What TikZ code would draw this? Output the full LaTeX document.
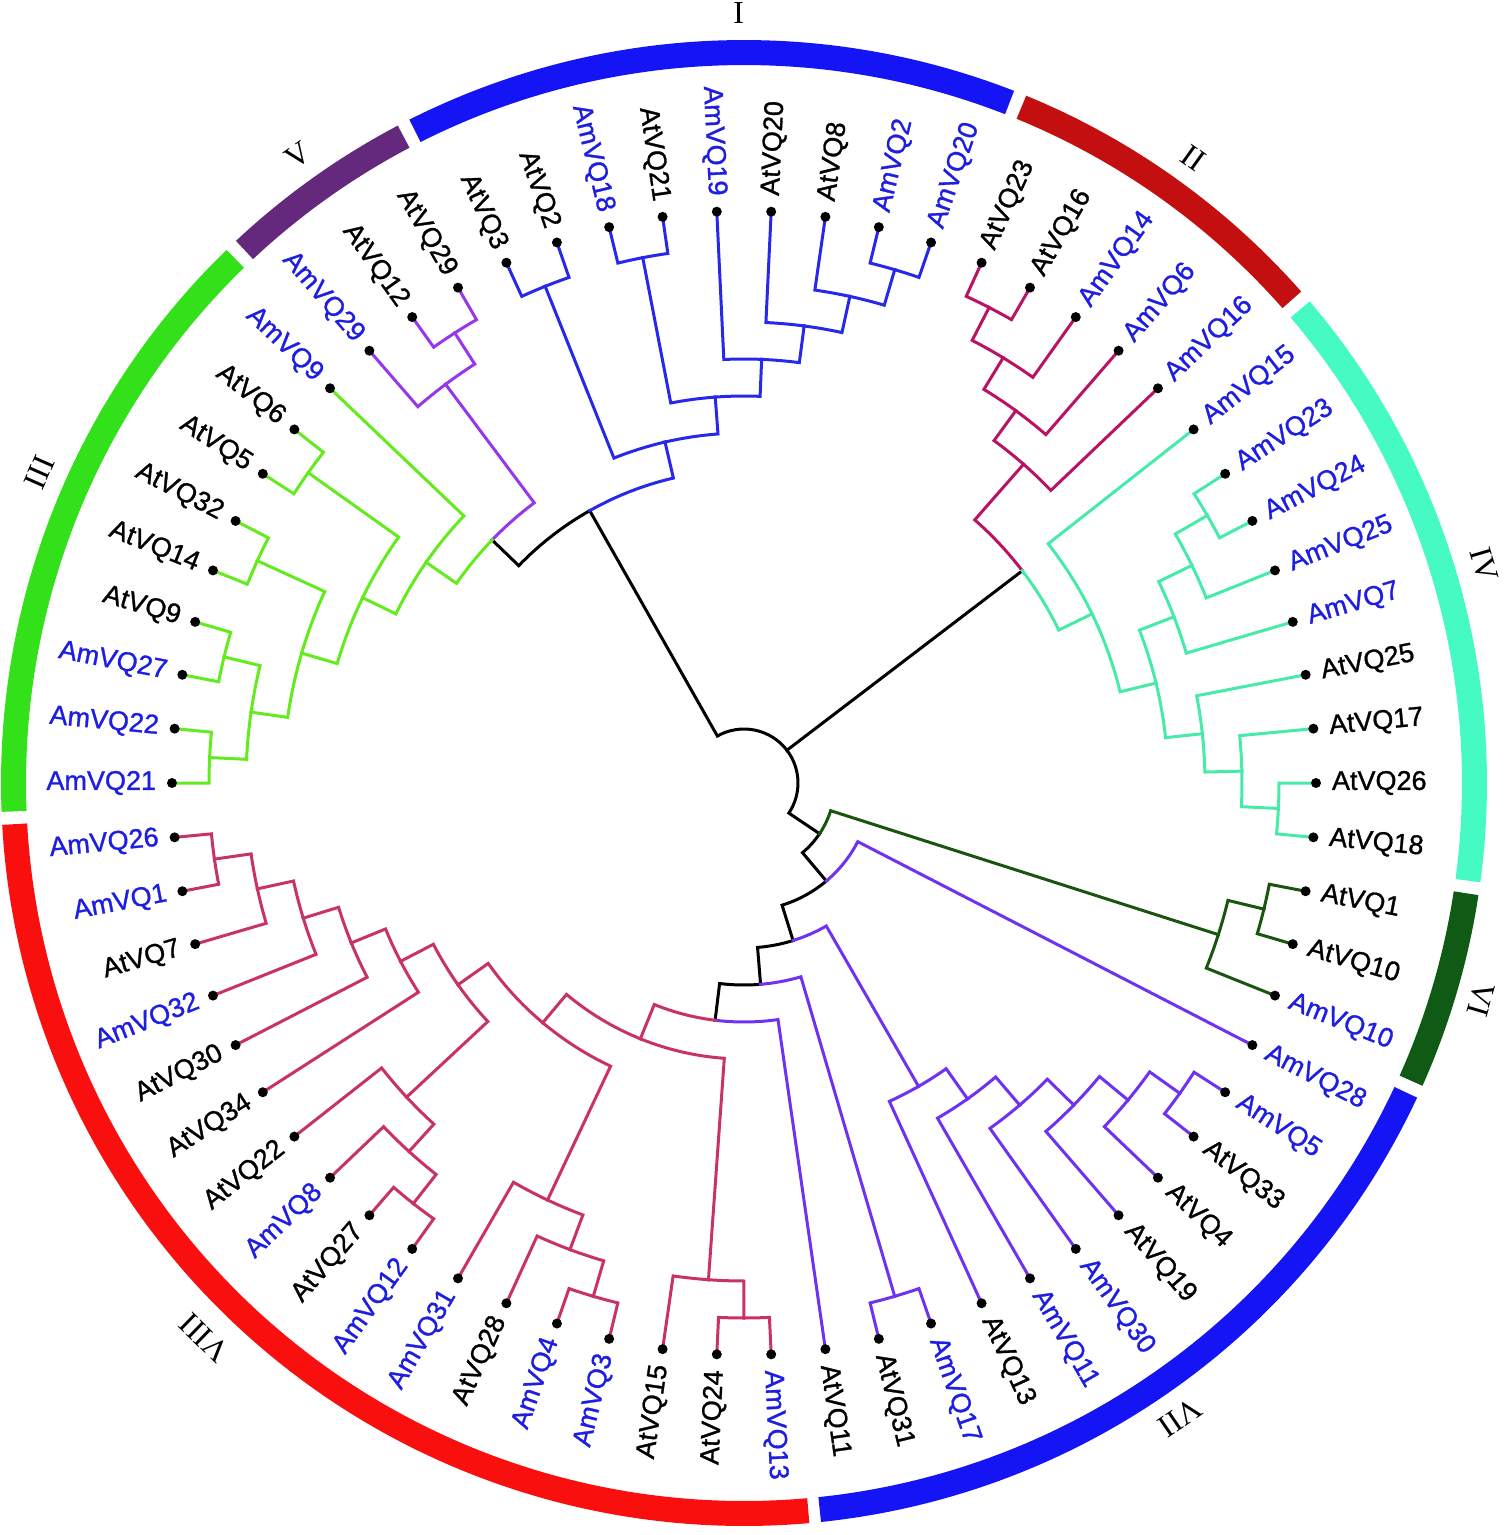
\documentclass[tikz,border=0pt]{standalone}
\usepackage{fontspec}
\setmainfont{Liberation Sans}
\newfontfamily\labfont[FakeBold=1.1]{Liberation Sans}
\newfontfamily\romfont{Liberation Serif}
\definecolor{cI}{RGB}{40,40,235}
\definecolor{cII}{RGB}{185,20,100}
\definecolor{cIII}{RGB}{100,235,30}
\definecolor{cIV}{RGB}{70,235,170}
\definecolor{cV}{RGB}{150,55,235}
\definecolor{cVI}{RGB}{25,85,15}
\definecolor{cVII}{RGB}{110,50,240}
\definecolor{cVIII}{RGB}{200,50,100}
\definecolor{rI}{RGB}{20,20,245}
\definecolor{rII}{RGB}{195,15,15}
\definecolor{rIII}{RGB}{50,225,25}
\definecolor{rIV}{RGB}{70,250,195}
\definecolor{rV}{RGB}{100,40,125}
\definecolor{rVI}{RGB}{15,90,20}
\definecolor{rVII}{RGB}{20,20,245}
\definecolor{rVIII}{RGB}{250,15,15}
\definecolor{amc}{RGB}{30,30,225}
\definecolor{atc}{RGB}{0,0,0}
\def\kk{5.45454545}
\tikzset{
  br/.style={line width=3pt, line cap=rect, line join=miter},
  lab/.style={inner sep=0pt, outer sep=0pt, font=\labfont\fontsize{27pt}{30pt}\selectfont},
  rom/.style={inner sep=0pt, outer sep=0pt, font=\romfont\fontsize{32pt}{36pt}\selectfont},
  leafdot/.style={circle, fill=black, draw=none, minimum size=10pt, inner sep=0pt},
  ringseg/.style={line width=25pt, line cap=butt}
}
% tree node: name, angle index u, height h
\newcommand\tn[3]{%
  \expandafter\xdef\csname tu-#1\endcsname{#2}%
  \expandafter\xdef\csname th-#1\endcsname{#3}%
  \pgfmathsetmacro\tmpa{#2*\kk}%
  \pgfmathsetmacro\tmpr{572-37*#3}%
  \coordinate (#1) at (\tmpa:\tmpr pt);%
}
% branch: colour, parent, child
\newcommand\br[3]{%
  \pgfmathsetmacro\pa{\csname tu-#2\endcsname*\kk}%
  \pgfmathsetmacro\ca{\csname tu-#3\endcsname*\kk}%
  \pgfmathsetmacro\pr{572-37*\csname th-#2\endcsname}%
  \draw[br,#1] (#2) arc[start angle=\pa, end angle=\ca, radius=\pr pt] -- (#3);%
}
% leaf: name, u, text, colour
\newcommand\lf[4]{%
  \tn{#1}{#2}{0}%
  \pgfmathsetmacro\la{#2*\kk}%
  \pgfmathtruncatemacro\rside{abs(\la)<90 ? 1 : 0}%
  \ifnum\rside=1
    \node[lab,text=#4,anchor=west,rotate=\la] (t#1) at (\la:588pt) {#3};%
  \else
    \pgfmathsetmacro\lb{\la+180}%
    \node[lab,text=#4,anchor=east,rotate=\lb] (t#1) at (\la:588pt) {#3};%
  \fi
}
\newcommand\seg[3]{\draw[ringseg,#1] (#2:730.5pt) arc[start angle=#2, end angle=#3, radius=730.5pt];}
\begin{document}
\begin{tikzpicture}[x=1pt,y=1pt]
\useasboundingbox (-744,-752) rectangle (761,783);
% ---------- leaves ----------
\lf{L0}{0}{AtVQ26}{atc}
\lf{L1}{1}{AtVQ17}{atc}
\lf{L2}{2}{AtVQ25}{atc}
\lf{L3}{3}{AmVQ7}{amc}
\lf{L4}{4}{AmVQ25}{amc}
\lf{L5}{5}{AmVQ24}{amc}
\lf{L6}{6}{AmVQ23}{amc}
\lf{L7}{7}{AmVQ15}{amc}
\lf{L8}{8}{AmVQ16}{amc}
\lf{L9}{9}{AmVQ6}{amc}
\lf{L10}{10}{AmVQ14}{amc}
\lf{L11}{11}{AtVQ16}{atc}
\lf{L12}{12}{AtVQ23}{atc}
\lf{L13}{13}{AmVQ20}{amc}
\lf{L14}{14}{AmVQ2}{amc}
\lf{L15}{15}{AtVQ8}{atc}
\lf{L16}{16}{AtVQ20}{atc}
\lf{L17}{17}{AmVQ19}{amc}
\lf{L18}{18}{AtVQ21}{atc}
\lf{L19}{19}{AmVQ18}{amc}
\lf{L20}{20}{AtVQ2}{atc}
\lf{L21}{21}{AtVQ3}{atc}
\lf{L22}{22}{AtVQ29}{atc}
\lf{L23}{23}{AtVQ12}{atc}
\lf{L24}{24}{AmVQ29}{amc}
\lf{L25}{25}{AmVQ9}{amc}
\lf{L26}{26}{AtVQ6}{atc}
\lf{L27}{27}{AtVQ5}{atc}
\lf{L28}{28}{AtVQ32}{atc}
\lf{L29}{29}{AtVQ14}{atc}
\lf{L30}{30}{AtVQ9}{atc}
\lf{L31}{31}{AmVQ27}{amc}
\lf{L32}{32}{AmVQ22}{amc}
\lf{L33}{33}{AmVQ21}{amc}
\lf{L34}{-32}{AmVQ26}{amc}
\lf{L35}{-31}{AmVQ1}{amc}
\lf{L36}{-30}{AtVQ7}{atc}
\lf{L37}{-29}{AmVQ32}{amc}
\lf{L38}{-28}{AtVQ30}{atc}
\lf{L39}{-27}{AtVQ34}{atc}
\lf{L40}{-26}{AtVQ22}{atc}
\lf{L41}{-25}{AmVQ8}{amc}
\lf{L42}{-24}{AtVQ27}{atc}
\lf{L43}{-23}{AmVQ12}{amc}
\lf{L44}{-22}{AmVQ31}{amc}
\lf{L45}{-21}{AtVQ28}{atc}
\lf{L46}{-20}{AmVQ4}{amc}
\lf{L47}{-19}{AmVQ3}{amc}
\lf{L48}{-18}{AtVQ15}{atc}
\lf{L49}{-17}{AtVQ24}{atc}
\lf{L50}{-16}{AmVQ13}{amc}
\lf{L51}{-15}{AtVQ11}{atc}
\lf{L52}{-14}{AtVQ31}{atc}
\lf{L53}{-13}{AmVQ17}{amc}
\lf{L54}{-12}{AtVQ13}{atc}
\lf{L55}{-11}{AmVQ11}{amc}
\lf{L56}{-10}{AmVQ30}{amc}
\lf{L57}{-9}{AtVQ19}{atc}
\lf{L58}{-8}{AtVQ4}{atc}
\lf{L59}{-7}{AtVQ33}{atc}
\lf{L60}{-6}{AmVQ5}{amc}
\lf{L61}{-5}{AmVQ28}{amc}
\lf{L62}{-4}{AmVQ10}{amc}
\lf{L63}{-3}{AtVQ10}{atc}
\lf{L64}{-2}{AtVQ1}{atc}
\lf{L65}{-1}{AtVQ18}{atc}
% ---------- internal nodes ----------
\tn{RT}{6.84375}{14}
\tn{A}{21.9140625}{7}
\tn{R1}{18.890625}{6}
\tn{P2021}{20.5}{1}
\tn{N1}{17.28125}{5}
\tn{P1819}{18.5}{1}
\tn{N2}{16.0625}{4}
\tn{N3}{15.125}{3}
\tn{N4}{14.25}{2}
\tn{P1314}{13.5}{1}
\tn{B}{24.9375}{6}
\tn{R5}{23.25}{2}
\tn{P2223}{22.5}{1}
\tn{R3}{26.625}{5}
\tn{Q3}{28.25}{4}
\tn{P2627}{26.5}{1}
\tn{Q2}{30}{3}
\tn{P2829}{28.5}{1}
\tn{Q1}{31.5}{2}
\tn{P3031}{30.5}{1}
\tn{P3233}{32.5}{1}
\tn{E}{6.84375}{6}
\tn{R2}{8.9375}{4}
\tn{X1}{9.875}{3}
\tn{X2}{10.75}{2}
\tn{P1112}{11.5}{1}
\tn{R4}{4.75}{5}
\tn{Y3}{2.5}{4}
\tn{Y2}{1.125}{3}
\tn{Y1}{0.25}{2}
\tn{P0}{-0.5}{1}
\tn{W2}{3.875}{3}
\tn{W1}{4.75}{2}
\tn{P56}{5.5}{1}
\tn{C}{-6.20642}{13}
\tn{R6}{-3.25}{2}
\tn{P6364}{-2.5}{1}
\tn{D}{-9.16284}{12}
\tn{F}{-13.3256836}{11}
\tn{G}{-11.015625}{6}
\tn{H}{-10.03125}{5}
\tn{I4}{-9.0625}{4}
\tn{I3}{-8.125}{3}
\tn{I2}{-7.25}{2}
\tn{P5960}{-6.5}{1}
\tn{F2}{-15.6357422}{10}
\tn{P5253}{-13.5}{1}
\tn{F3}{-17.7714844}{9}
\tn{R8}{-20.5429688}{8}
\tn{V1}{-17.25}{2}
\tn{P4950}{-16.5}{1}
\tn{K1}{-23.8359375}{7}
\tn{K2}{-21.125}{3}
\tn{K3}{-20.25}{2}
\tn{P4647}{-19.5}{1}
\tn{K4}{-26.546875}{6}
\tn{M}{-25.125}{3}
\tn{M2}{-24.25}{2}
\tn{P4243}{-23.5}{1}
\tn{J4}{-27.96875}{5}
\tn{J3}{-28.9375}{4}
\tn{J2}{-29.875}{3}
\tn{J1}{-30.75}{2}
\tn{P3435}{-31.5}{1}
% ---------- backbone ----------
\br{black}{RT}{A}
\br{black}{RT}{C}
\draw[br,black] (RT) -- (E);
\br{black}{A}{B}
\br{black}{C}{D}
\br{black}{D}{F}
\br{black}{F}{F2}
\br{black}{F2}{F3}
% ---------- clade I ----------
\br{cI}{A}{R1}
\br{cI}{R1}{P2021}\br{cI}{R1}{N1}
\br{cI}{P2021}{L20}\br{cI}{P2021}{L21}
\br{cI}{N1}{P1819}\br{cI}{N1}{N2}
\br{cI}{P1819}{L18}\br{cI}{P1819}{L19}
\br{cI}{N2}{L17}\br{cI}{N2}{N3}
\br{cI}{N3}{L16}\br{cI}{N3}{N4}
\br{cI}{N4}{L15}\br{cI}{N4}{P1314}
\br{cI}{P1314}{L13}\br{cI}{P1314}{L14}
% ---------- clade V ----------
\br{cV}{B}{R5}
\br{cV}{R5}{P2223}\br{cV}{R5}{L24}
\br{cV}{P2223}{L22}\br{cV}{P2223}{L23}
% ---------- clade III ----------
\br{cIII}{B}{R3}
\br{cIII}{R3}{L25}\br{cIII}{R3}{Q3}
\br{cIII}{Q3}{P2627}\br{cIII}{Q3}{Q2}
\br{cIII}{P2627}{L26}\br{cIII}{P2627}{L27}
\br{cIII}{Q2}{P2829}\br{cIII}{Q2}{Q1}
\br{cIII}{P2829}{L28}\br{cIII}{P2829}{L29}
\br{cIII}{Q1}{P3031}\br{cIII}{Q1}{P3233}
\br{cIII}{P3031}{L30}\br{cIII}{P3031}{L31}
\br{cIII}{P3233}{L32}\br{cIII}{P3233}{L33}
% ---------- clade II ----------
\br{cII}{E}{R2}
\br{cII}{R2}{L8}\br{cII}{R2}{X1}
\br{cII}{X1}{L9}\br{cII}{X1}{X2}
\br{cII}{X2}{L10}\br{cII}{X2}{P1112}
\br{cII}{P1112}{L11}\br{cII}{P1112}{L12}
% ---------- clade IV ----------
\br{cIV}{E}{R4}
\br{cIV}{R4}{Y3}\br{cIV}{R4}{L7}
\br{cIV}{Y3}{Y2}\br{cIV}{Y3}{W2}
\br{cIV}{Y2}{Y1}\br{cIV}{Y2}{L2}
\br{cIV}{Y1}{P0}\br{cIV}{Y1}{L1}
\br{cIV}{P0}{L65}\br{cIV}{P0}{L0}
\br{cIV}{W2}{L3}\br{cIV}{W2}{W1}
\br{cIV}{W1}{L4}\br{cIV}{W1}{P56}
\br{cIV}{P56}{L5}\br{cIV}{P56}{L6}
% ---------- clade VI ----------
\br{cVI}{C}{R6}
\br{cVI}{R6}{L62}\br{cVI}{R6}{P6364}
\br{cVI}{P6364}{L63}\br{cVI}{P6364}{L64}
% ---------- clade VII ----------
\br{cVII}{D}{L61}
\br{cVII}{F}{G}
\br{cVII}{G}{L54}\br{cVII}{G}{H}
\br{cVII}{H}{L55}\br{cVII}{H}{I4}
\br{cVII}{I4}{L56}\br{cVII}{I4}{I3}
\br{cVII}{I3}{L57}\br{cVII}{I3}{I2}
\br{cVII}{I2}{L58}\br{cVII}{I2}{P5960}
\br{cVII}{P5960}{L59}\br{cVII}{P5960}{L60}
\br{cVII}{F2}{P5253}
\br{cVII}{P5253}{L52}\br{cVII}{P5253}{L53}
\br{cVII}{F3}{L51}
% ---------- clade VIII ----------
\br{cVIII}{F3}{R8}
\br{cVIII}{R8}{K1}\br{cVIII}{R8}{V1}
\br{cVIII}{V1}{L48}\br{cVIII}{V1}{P4950}
\br{cVIII}{P4950}{L49}\br{cVIII}{P4950}{L50}
\br{cVIII}{K1}{K4}\br{cVIII}{K1}{K2}
\br{cVIII}{K2}{L44}\br{cVIII}{K2}{K3}
\br{cVIII}{K3}{L45}\br{cVIII}{K3}{P4647}
\br{cVIII}{P4647}{L46}\br{cVIII}{P4647}{L47}
\br{cVIII}{K4}{J4}\br{cVIII}{K4}{M}
\br{cVIII}{M}{L40}\br{cVIII}{M}{M2}
\br{cVIII}{M2}{L41}\br{cVIII}{M2}{P4243}
\br{cVIII}{P4243}{L42}\br{cVIII}{P4243}{L43}
\br{cVIII}{J4}{J3}\br{cVIII}{J4}{L39}
\br{cVIII}{J3}{J2}\br{cVIII}{J3}{L38}
\br{cVIII}{J2}{J1}\br{cVIII}{J2}{L37}
\br{cVIII}{J1}{P3435}\br{cVIII}{J1}{L36}
\br{cVIII}{P3435}{L34}\br{cVIII}{P3435}{L35}
% ---------- leaf dots ----------
\foreach \i in {0,...,65} {\node[leafdot] (dL\i) at (L\i) {};}
% ---------- outer ring ----------
\seg{rII}{41.41}{67.68}
\seg{rI}{68.68}{116.77}
\seg{rV}{117.77}{133.14}
\seg{rIII}{134.14}{182.23}
\seg{rVIII}{183.23}{275.05}
\seg{rVII}{275.95}{334.95}
\seg{rVI}{335.95}{351.32}
\seg{rIV}{352.32}{400.41}
% ---------- clade numerals ----------
\node[rom,rotate=0.4] (nI) at (90.4:770) {I};
\node[rom,rotate=-35.7] (nII) at (54.3:770) {II};
\node[rom,rotate=66.2] (nIII) at (156.2:770) {III};
\node[rom,rotate=-73.6] (nIV) at (16.4:772) {IV};
\node[rom,rotate=35.4] (nV) at (125.4:770) {V};
\node[rom,rotate=-106.4] (nVI) at (-16.4:768) {VI};
\node[rom,rotate=-145.5] (nVII) at (-55.5:770) {VII};
\node[rom,rotate=135.8] (nVIII) at (-134.2:774) {VIII};
\end{tikzpicture}
\end{document}
